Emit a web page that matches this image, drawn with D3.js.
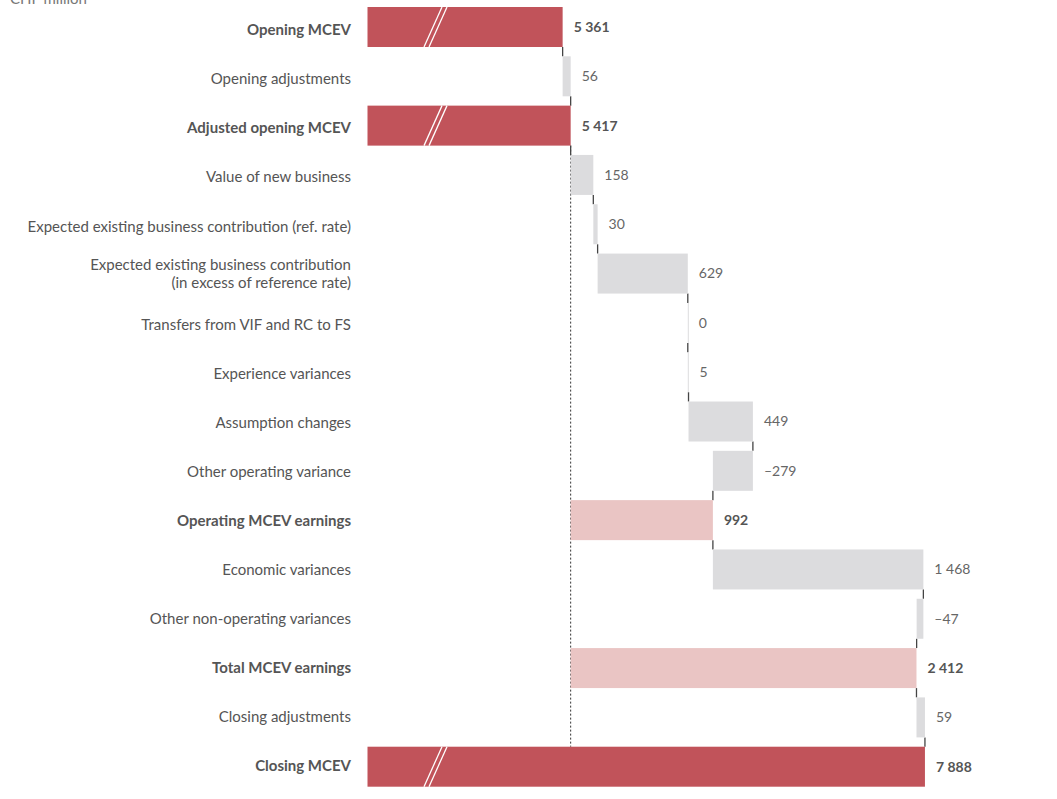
<!DOCTYPE html>
<html>
<head>
<meta charset="utf-8">
<script src="https://cdn.jsdelivr.net/npm/d3@7"></script>
<style>
  html, body { margin: 0; padding: 0; background: #fff; }
  svg { display: block; font-family: Lato, "Open Sans", sans-serif; }
</style>
</head>
<body>
<svg id="chart" width="1057" height="799"></svg>
<script>
// categories, row types and values (CHF million)
const categories = [
  "Opening MCEV",
  "Opening adjustments",
  "Adjusted opening MCEV",
  "Value of new business",
  "Expected existing business contribution (ref. rate)",
  "Expected existing business contribution|(in excess of reference rate)",
  "Transfers from VIF and RC to FS",
  "Experience variances",
  "Assumption changes",
  "Other operating variance",
  "Operating MCEV earnings",
  "Economic variances",
  "Other non-operating variances",
  "Total MCEV earnings",
  "Closing adjustments",
  "Closing MCEV"
];
// total = full bar (broken axis), delta = step, subtotal = measured from adjusted opening
const rowTypes = ["total", "delta", "total", "delta", "delta", "delta", "delta", "delta",
  "delta", "delta", "subtotal", "delta", "delta", "subtotal", "delta", "total"];
const values = [5361, 56, 5417, 158, 30, 629, 0, 5, 449, -279, 992, 1468, -47, 2412, 59, 7888];
const valueLabels = ["5 361", "56", "5 417", "158", "30", "629", "0", "5", "449", "–279",
  "992", "1 468", "–47", "2 412", "59", "7 888"];
const axisDomain = [4000, 8000];

const colors = { total: "#c1535a", subtotal: "#eac5c4", delta: "#dcdcde" };

// build bar extents from the values
let running = 0, base = null;
const rows = categories.map((c, i) => {
  const t = rowTypes[i], v = values[i];
  let x0, x1;
  if (t === "total") { x0 = axisDomain[0]; x1 = v; running = v; if (base === null || i === 2) base = v; }
  else if (t === "subtotal") { x0 = base; x1 = base + v; running = x1; }
  else { x0 = running; x1 = running + v; running = x1; }
  return { cat: c, type: t, value: v, label: valueLabels[i], x0, x1, end: x1 };
});

const svg = d3.select("#chart");
const x = d3.scaleLinear().domain(axisDomain).range([367.5, 941]);
const y = d3.scaleBand().domain(categories).range([7, 786.7]).paddingInner(0.189).paddingOuter(0);
const yLabel = d3.scalePoint().domain(categories).range([30, 766]);
const bw = y.bandwidth();

// unit note, cut off at top
svg.append("text").attr("x", 10).attr("y", 4).attr("fill", "#777")
  .style("font-size", "15px").text("CHF million");

// dotted reference line at adjusted opening
const baseRow = rows[2];
svg.append("line")
  .attr("x1", x(baseRow.x1)).attr("x2", x(baseRow.x1))
  .attr("y1", y(baseRow.cat) + bw).attr("y2", y(categories[categories.length - 1]))
  .attr("stroke", "#333").attr("stroke-width", 1).attr("stroke-dasharray", "2,2");

// connectors between consecutive bars
rows.slice(0, -1).forEach((r, i) => {
  const next = rows[i + 1];
  svg.append("line")
    .attr("x1", x(r.end)).attr("x2", x(r.end))
    .attr("y1", y(r.cat) + bw).attr("y2", y(next.cat))
    .attr("stroke", "#444").attr("stroke-width", 1.3);
});

// bars
svg.append("g").selectAll("rect").data(rows).join("rect")
  .attr("x", d => x(Math.min(d.x0, d.x1)))
  .attr("y", d => y(d.cat))
  .attr("width", d => Math.max(1, Math.abs(x(d.x1) - x(d.x0))))
  .attr("height", bw)
  .attr("fill", d => colors[d.type]);

// axis break marks on the full bars
const breaks = svg.append("g");
rows.filter(d => d.type === "total").forEach(d => {
  const top = y(d.cat), bot = top + bw;
  [0, 5].forEach(off => {
    breaks.append("line")
      .attr("x1", 442 + off).attr("y1", top)
      .attr("x2", 424 + off).attr("y2", bot)
      .attr("stroke", "#fff").attr("stroke-width", 1.3);
  });
});

// category labels
const lab = svg.append("g").attr("text-anchor", "end").style("font-size", "15px");
rows.forEach(d => {
  const parts = d.cat.split("|");
  const cy = parts.length > 1 ? y(d.cat) + bw / 2 : yLabel(d.cat);
  const t = lab.append("text")
    .attr("x", 351)
    .attr("fill", "#555")
    .style("font-weight", d.type === "delta" ? 400 : 700);
  parts.forEach((p, k) => {
    t.append("tspan").attr("x", 351)
      .attr("y", cy + (k - (parts.length - 1) / 2) * 18)
      .attr("dy", "0.35em").text(p);
  });
});

// value labels
svg.append("g").selectAll("text").data(rows).join("text")
  .attr("x", d => x(Math.max(d.x0, d.x1)) + 11)
  .attr("y", d => y(d.cat) + bw / 2)
  .attr("dy", "0.35em")
  .attr("fill", d => d.type === "delta" ? "#666" : "#555")
  .style("font-size", "14px")
  .style("font-weight", d => d.type === "delta" ? 400 : 700)
  .text(d => d.label);
</script>
</body>
</html>
